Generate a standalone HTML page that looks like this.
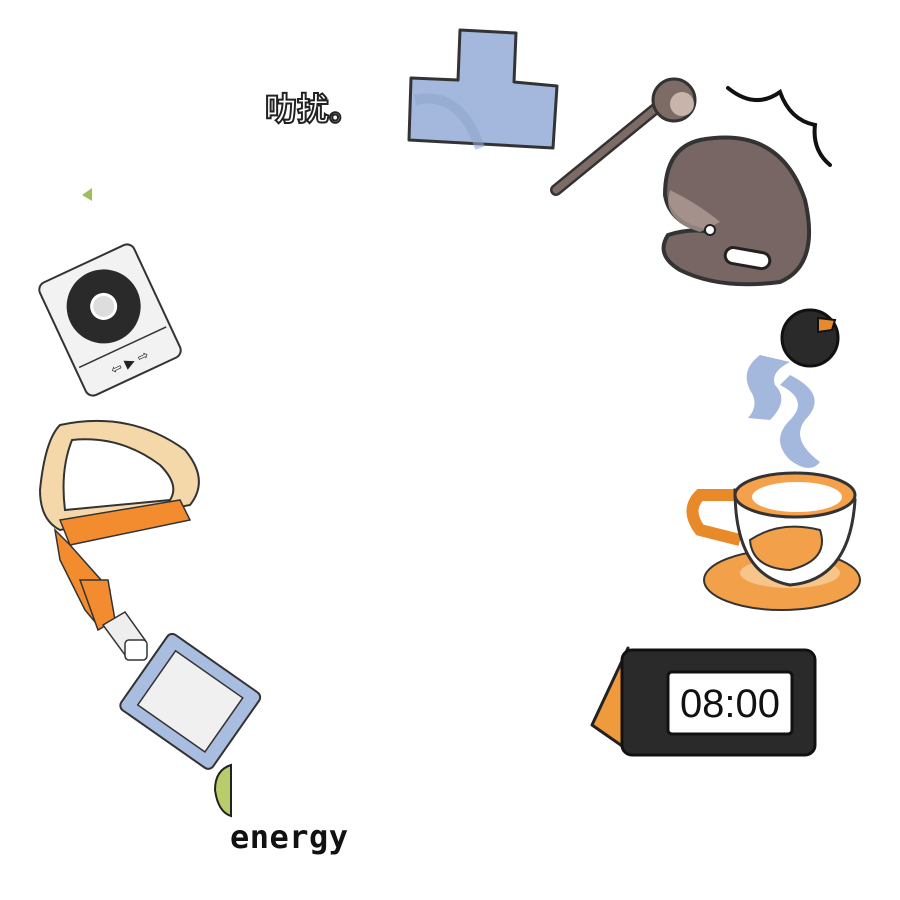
<!DOCTYPE html>
<html><head><meta charset="utf-8"><style>html,body{margin:0;padding:0;background:#fff}svg{display:block}</style></head>
<body>
<svg width="900" height="900" viewBox="0 0 900 900" xmlns="http://www.w3.org/2000/svg">
<rect width="900" height="900" fill="#fff"/>
<text x="265" y="120" font-family="Noto Sans CJK SC, sans-serif" font-size="32" font-weight="bold" fill="#fff" stroke="#222" stroke-width="2">叻扰。</text>
<!-- blue T -->
<path d="M460,30 L516,33 L514,82 L557,86 L553,148 L409,140 L411,78 L458,80 Z" fill="#a3b8dc" stroke="#333" stroke-width="3" stroke-linejoin="round"/>
<path d="M415,100 Q460,90 480,148" fill="none" stroke="#8fa5cc" stroke-width="10" opacity="0.6"/>
<!-- mallet -->
<line x1="556" y1="190" x2="660" y2="105" stroke="#333" stroke-width="12" stroke-linecap="round"/>
<line x1="556" y1="190" x2="660" y2="105" stroke="#7d6c66" stroke-width="7" stroke-linecap="round"/>
<circle cx="674" cy="100" r="21" fill="#7d6c66" stroke="#333" stroke-width="3"/>
<circle cx="682" cy="104" r="12" fill="#c8b4ab"/>
<path d="M728,88 Q755,110 780,92 Q790,120 815,125 Q812,150 830,165" fill="none" stroke="#111" stroke-width="4" stroke-linecap="round"/>
<!-- bell blob -->
<path d="M700,140 Q780,125 805,200 Q820,265 780,282 Q720,290 680,270 Q655,255 668,235 Q690,228 710,232 Q670,225 665,195 Q665,148 700,140 Z" fill="#776663" stroke="#333" stroke-width="4" stroke-linejoin="round"/>
<path d="M670,190 Q700,205 720,222 L700,232 Q668,222 668,200Z" fill="#b8a49e" opacity="0.7"/>
<circle cx="710" cy="230" r="5" fill="#fff" stroke="#222" stroke-width="2"/>
<rect x="725" y="250" width="45" height="16" rx="8" fill="#fff" stroke="#222" stroke-width="3" transform="rotate(10 747 258)"/>
<!-- pot -->
<circle cx="810" cy="338" r="28" fill="#2a2a2a" stroke="#111" stroke-width="3"/>
<path d="M818,318 L835,320 L832,330 L818,332 Z" fill="#e68a2e" stroke="#111" stroke-width="2"/>
<!-- steam -->
<path d="M760,355 Q740,370 750,390 Q760,405 748,418 L770,420 Q790,400 775,385 Q770,372 790,362 Z" fill="#a3b8dc"/>
<path d="M790,375 Q830,395 805,420 Q790,440 820,462 Q810,475 790,460 Q770,440 790,420 Q810,400 780,385Z" fill="#a3b8dc"/>
<!-- cup -->
<ellipse cx="782" cy="580" rx="78" ry="30" fill="#f2a04a" stroke="#333" stroke-width="2"/>
<ellipse cx="790" cy="573" rx="50" ry="15" fill="#f7c48a"/>
<path d="M745,495 L700,495 Q685,510 700,530 L740,540" fill="none" stroke="#e88a2a" stroke-width="12"/>
<path d="M735,490 Q735,575 790,585 Q850,580 855,500 Z" fill="#fff" stroke="#333" stroke-width="3"/>
<ellipse cx="795" cy="495" rx="60" ry="22" fill="#f5a04a" stroke="#333" stroke-width="3"/>
<ellipse cx="797" cy="497" rx="45" ry="15" fill="#fff"/>
<path d="M750,540 Q780,520 820,530 Q830,560 790,570 Q752,568 750,540Z" fill="#f2a04a" stroke="#333" stroke-width="2"/>
<!-- clock -->
<path d="M628,648 L592,725 L625,748 Z" fill="#f09a3e" stroke="#222" stroke-width="3" stroke-linejoin="round"/>
<rect x="622" y="650" width="193" height="105" rx="10" fill="#2a2a2a" stroke="#111" stroke-width="3"/>
<rect x="668" y="672" width="124" height="62" rx="4" fill="#fff" stroke="#111" stroke-width="3"/>
<text x="730" y="717" text-anchor="middle" font-family="Liberation Sans, sans-serif" font-size="40" fill="#111">08:00</text>
<!-- green bits -->
<path d="M92,188 L82,195 L92,201 Z" fill="#9fbf5a"/>
<path d="M231,765 Q215,770 215,790 Q218,812 231,816 Z" fill="#b8cc6a" stroke="#222" stroke-width="2"/>
<!-- CD player -->
<g transform="rotate(-25 110 320)">
<rect x="58" y="258" width="104" height="124" rx="8" fill="#f2f2f2" stroke="#333" stroke-width="2"/>
<circle cx="110" cy="305" r="37" fill="#2a2a2a"/>
<circle cx="110" cy="305" r="12" fill="#ddd" stroke="#fff" stroke-width="3"/>
<line x1="62" y1="350" x2="158" y2="350" stroke="#333" stroke-width="1.5"/>
<text x="110" y="371" text-anchor="middle" font-family="DejaVu Sans, sans-serif" font-size="13" fill="#222">⇦ ▶ ⇨</text>
</g>
<!-- lanyard -->
<path d="M60,425 Q130,410 185,450 Q210,480 190,505 L60,530 Q40,520 40,490 Q45,440 60,425 Z M72,440 Q60,470 65,510 L170,500 Q180,485 160,465 Q120,435 72,440 Z" fill="#f5d8aa" fill-rule="evenodd" stroke="#333" stroke-width="2"/>
<path d="M60,520 L180,500 L190,520 L70,545 Z" fill="#f28c2e" stroke="#333" stroke-width="1.5"/>
<path d="M55,530 L70,545 L110,590 L100,628 L85,610 L60,560 Z" fill="#f28c2e" stroke="#333" stroke-width="1.5"/>
<path d="M80,580 L108,580 L115,620 L98,630 Z" fill="#f28c2e" stroke="#333" stroke-width="1.5"/>
<path d="M103,625 L125,612 L145,640 L125,655 Z" fill="#eee" stroke="#333" stroke-width="1.5"/>
<rect x="125" y="640" width="22" height="20" rx="4" fill="#fff" stroke="#333" stroke-width="1.5"/>
<g transform="rotate(35 190 700)">
<rect x="135" y="655" width="112" height="92" rx="6" fill="#a9bde0" stroke="#333" stroke-width="2"/>
<rect x="150" y="668" width="82" height="66" fill="#f0f0f0" stroke="#333" stroke-width="1.5"/>
</g>
<text x="230" y="848" font-family="DejaVu Sans Mono, monospace" font-size="32" font-weight="bold" fill="#111" textLength="118">energy</text>
</svg>
</body></html>
